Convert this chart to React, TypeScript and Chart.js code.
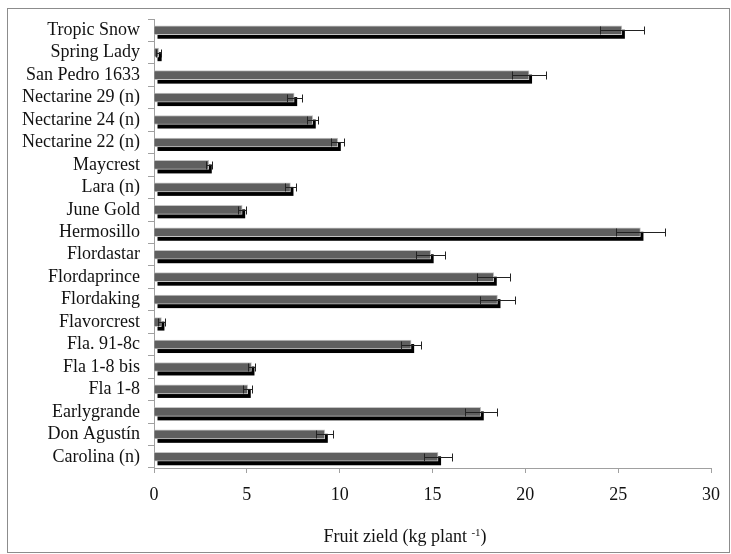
import React, { useEffect, useRef } from "react";
import { Chart, registerables } from "chart.js";

Chart.register(...registerables);

const categories = [
  "Tropic Snow",
  "Spring Lady",
  "San Pedro 1633",
  "Nectarine 29 (n)",
  "Nectarine 24 (n)",
  "Nectarine 22 (n)",
  "Maycrest",
  "Lara (n)",
  "June Gold",
  "Hermosillo",
  "Flordastar",
  "Flordaprince",
  "Flordaking",
  "Flavorcrest",
  "Fla. 91-8c",
  "Fla 1-8 bis",
  "Fla 1-8",
  "Earlygrande",
  "Don Agustín",
  "Carolina (n)",
];

const yieldValues = [
  25.2, 0.25, 20.2, 7.55, 8.55, 9.9, 2.95, 7.35, 4.75, 26.2, 14.9, 18.3, 18.5,
  0.4, 13.85, 5.25, 5.05, 17.6, 9.2, 15.3,
];

const yieldErrors = [
  1.2, 0.15, 0.9, 0.4, 0.3, 0.35, 0.16, 0.3, 0.2, 1.3, 0.8, 0.9, 0.95, 0.2,
  0.55, 0.2, 0.25, 0.87, 0.45, 0.75,
];

const xTicks = [0, 5, 10, 15, 20, 25, 30];

const titleMain = "Fruit zield (kg plant ";
const titleSup = "-1";
const titleEnd = ")";

const FONT = "'Liberation Serif', serif";

const shadowPlugin = {
  id: "barShadow",
  beforeDatasetsDraw(chart: any) {
    const ctx = chart.ctx;
    const meta = chart.getDatasetMeta(0);
    ctx.save();
    ctx.fillStyle = "#000";
    meta.data.forEach((bar: any) => {
      const { x, y, base, height } = bar.getProps(["x", "y", "base", "height"], true);
      const left = Math.min(x, base);
      const w = Math.abs(x - base);
      ctx.fillRect(left + 3, y - height / 2 + 4, w, height);
    });
    ctx.restore();
  },
};

const errorPlugin = {
  id: "errorBars",
  afterDatasetsDraw(chart: any) {
    const ctx = chart.ctx;
    const xs = chart.scales.x;
    const meta = chart.getDatasetMeta(0);
    ctx.save();
    ctx.strokeStyle = "#222";
    ctx.lineWidth = 1;
    meta.data.forEach((bar: any, i: number) => {
      const v = yieldValues[i];
      const e = yieldErrors[i];
      const x1 = Math.round(xs.getPixelForValue(v - e)) + 0.5;
      const x2 = Math.round(xs.getPixelForValue(v + e)) + 0.5;
      const y = Math.round(bar.y) + 0.5;
      ctx.beginPath();
      ctx.moveTo(x1, y);
      ctx.lineTo(x2, y);
      ctx.moveTo(x1, y - 4);
      ctx.lineTo(x1, y + 4);
      ctx.moveTo(x2, y - 4);
      ctx.lineTo(x2, y + 4);
      ctx.stroke();
    });
    ctx.restore();
  },
};

const titlePlugin = {
  id: "axisTitle",
  afterDraw(chart: any) {
    const ctx = chart.ctx;
    ctx.save();
    ctx.fillStyle = "#111";
    ctx.textBaseline = "alphabetic";
    const mainFont = `18px ${FONT}`;
    const supFont = `11px ${FONT}`;
    ctx.font = mainFont;
    const w1 = ctx.measureText(titleMain).width;
    const w3 = ctx.measureText(titleEnd).width;
    ctx.font = supFont;
    const w2 = ctx.measureText(titleSup).width;
    const total = w1 + w2 + w3;
    const cx = 405;
    const baseY = 542;
    let x = cx - total / 2;
    ctx.textAlign = "left";
    ctx.font = mainFont;
    ctx.fillText(titleMain, x, baseY);
    x += w1;
    ctx.font = supFont;
    ctx.fillText(titleSup, x, baseY - 6);
    x += w2;
    ctx.font = mainFont;
    ctx.fillText(titleEnd, x, baseY);
    ctx.restore();
  },
};

export default function App() {
  const ref = useRef<HTMLCanvasElement | null>(null);

  useEffect(() => {
    if (!ref.current) return;
    const chart = new Chart(ref.current, {
      type: "bar",
      data: {
        labels: categories,
        datasets: [
          {
            data: yieldValues,
            backgroundColor: "#5f5f5f",
            borderColor: "#c4c4c4",
            borderWidth: 1,
            barThickness: 9,
          },
        ],
      },
      options: {
        indexAxis: "y",
        responsive: false,
        animation: false,
        layout: { padding: { top: 19, right: 13, left: 0, bottom: 0 } },
        plugins: {
          legend: { display: false },
          tooltip: { enabled: false },
        },
        scales: {
          y: {
            type: "category",
            grid: { drawOnChartArea: false, tickLength: 6, color: "#a0a0a0", offset: true },
            border: { color: "#a0a0a0" },
            ticks: {
              autoSkip: false,
              padding: 8,
              color: "#111",
              font: { family: FONT, size: 18 },
            },
            afterFit: (s: any) => {
              s.width = 154;
            },
          },
          x: {
            type: "linear",
            min: 0,
            max: 30,
            afterBuildTicks: (s: any) => {
              s.ticks = xTicks.map((v) => ({ value: v }));
            },
            grid: { drawOnChartArea: false, tickLength: 5, color: "#a0a0a0" },
            border: { color: "#a0a0a0" },
            ticks: {
              padding: 11,
              color: "#111",
              font: { family: FONT, size: 18 },
            },
            afterFit: (s: any) => {
              s.height = 554 - 468;
            },
          },
        },
      },
      plugins: [shadowPlugin, errorPlugin, titlePlugin],
    });
    return () => chart.destroy();
  }, []);

  return (
    <div style={{ position: "fixed", left: 0, top: 0, width: 731, height: 554, background: "#fff" }}>
      <canvas ref={ref} width={731} height={554} style={{ width: 731, height: 554, display: "block" }} />
      <div
        style={{
          position: "absolute",
          left: 7,
          top: 8,
          width: 723,
          height: 545,
          boxSizing: "border-box",
          border: "1px solid #8c8c8c",
          pointerEvents: "none",
        }}
      />
    </div>
  );
}
